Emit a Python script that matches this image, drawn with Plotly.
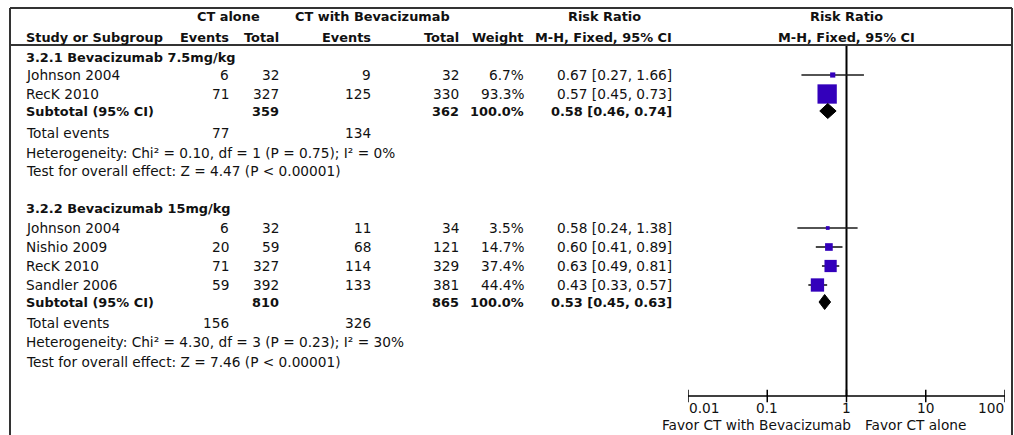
import numpy as np
import plotly.graph_objects as go

W, H = 1014, 435
FONT = "DejaVu Sans"
FS = 13.7       # regular text
FS_B = 12.9     # bold text
TXT = "#111111"
SQ = "#3300BB"

# ---------------- data ----------------
g1_title = "3.2.1 Bevacizumab 7.5mg/kg"
g1_studies = ["Johnson 2004", "RecK 2010"]
g1_ct_events = [6, 71]
g1_ct_total = [32, 327]
g1_bev_events = [9, 125]
g1_bev_total = [32, 330]
g1_weight = [6.7, 93.3]
g1_rr = [0.67, 0.57]
g1_lo = [0.27, 0.45]
g1_hi = [1.66, 0.73]
g1_sub_ct_total = 359
g1_sub_bev_total = 362
g1_sub_rr = [0.58, 0.46, 0.74]
g1_total_events = [77, 134]
g1_het = "Heterogeneity: Chi² = 0.10, df = 1 (P = 0.75); I² = 0%"
g1_test = "Test for overall effect: Z = 4.47 (P < 0.00001)"

g2_title = "3.2.2 Bevacizumab 15mg/kg"
g2_studies = ["Johnson 2004", "Nishio 2009", "RecK 2010", "Sandler 2006"]
g2_ct_events = [6, 20, 71, 59]
g2_ct_total = [32, 59, 327, 392]
g2_bev_events = [11, 68, 114, 133]
g2_bev_total = [34, 121, 329, 381]
g2_weight = [3.5, 14.7, 37.4, 44.4]
g2_rr = [0.58, 0.60, 0.63, 0.43]
g2_lo = [0.24, 0.41, 0.49, 0.33]
g2_hi = [1.38, 0.89, 0.81, 0.57]
g2_sub_ct_total = 810
g2_sub_bev_total = 865
g2_sub_rr = [0.53, 0.45, 0.63]
g2_total_events = [156, 326]
g2_het = "Heterogeneity: Chi² = 4.30, df = 3 (P = 0.23); I² = 30%"
g2_test = "Test for overall effect: Z = 7.46 (P < 0.00001)"

axis_ticks = [0.01, 0.1, 1, 10, 100]
axis_labels = ["0.01", "0.1", "1", "10", "100"]
favor_left = "Favor CT with Bevacizumab"
favor_right = "Favor CT alone"

# ---------------- layout (pixel rows / columns) ----------------
g1_rows = dict(title=57, studies=[75, 94], sub=111, events=133, het=153, test=171)
g2_rows = dict(title=208, studies=[228, 247, 266, 285], sub=302, events=323, het=342, test=362)
HDR1_Y, HDR2_Y = 16, 37
AXIS_Y = 396
TICKLAB_Y, FAVOR_Y = 408, 425
PLOT_X0, PLOT_X1 = 688, 1005
COL_STUDY = 25
COL_CT_EV, COL_CT_TOT = 230, 280
COL_BEV_EV, COL_BEV_TOT = 372, 460
COL_WEIGHT = 525
COL_RR = 673

annotations = []


def txt(x, y, s, anchor="left", bold=False, xref="paper"):
    annotations.append(dict(
        x=x / W if xref == "paper" else x, y=y, xref=xref, yref="y",
        text=f"<b>{s}</b>" if bold else s, showarrow=False,
        xanchor=anchor, yanchor="middle", borderpad=0,
        font=dict(family=FONT, size=FS_B if bold else FS, color=TXT),
    ))


def rr_text(r, lo, hi):
    return f"{r:.2f} [{lo:.2f}, {hi:.2f}]"


# header
txt(228, HDR1_Y, "CT alone", "center", True)
txt(372, HDR1_Y, "CT with Bevacizumab", "center", True)
txt(604, HDR1_Y, "Risk Ratio", "center", True)
txt(846, HDR1_Y, "Risk Ratio", "center", True)
txt(COL_STUDY, HDR2_Y, "Study or Subgroup", "left", True)
txt(COL_CT_EV, HDR2_Y, "Events", "right", True)
txt(COL_CT_TOT, HDR2_Y, "Total", "right", True)
txt(COL_BEV_EV, HDR2_Y, "Events", "right", True)
txt(COL_BEV_TOT, HDR2_Y, "Total", "right", True)
txt(COL_WEIGHT, HDR2_Y, "Weight", "right", True)
txt(COL_RR, HDR2_Y, "M-H, Fixed, 95% CI", "right", True)
txt(846, HDR2_Y, "M-H, Fixed, 95% CI", "center", True)

traces = []


def draw_group(rows, title, studies, cte, ctt, bve, bvt, wt, rr, lo, hi,
               sub_ct, sub_bev, sub_rr, tot_ev, het, test):
    txt(COL_STUDY, rows["title"], title, "left", True)
    for i, name in enumerate(studies):
        y = rows["studies"][i]
        txt(COL_STUDY, y, name)
        txt(COL_CT_EV, y, str(cte[i]), "right")
        txt(COL_CT_TOT, y, str(ctt[i]), "right")
        txt(COL_BEV_EV, y, str(bve[i]), "right")
        txt(COL_BEV_TOT, y, str(bvt[i]), "right")
        txt(COL_WEIGHT, y, f"{wt[i]:.1f}%", "right")
        txt(COL_RR, y, rr_text(rr[i], lo[i], hi[i]), "right")
    ys = rows["sub"]
    txt(COL_STUDY, ys, "Subtotal (95% CI)", "left", True)
    txt(COL_CT_TOT, ys, str(sub_ct), "right", True)
    txt(COL_BEV_TOT, ys, str(sub_bev), "right", True)
    txt(COL_WEIGHT, ys, f"{sum(wt):.1f}%", "right", True)
    txt(COL_RR, ys, rr_text(*sub_rr), "right", True)
    txt(COL_STUDY, rows["events"], "Total events")
    txt(COL_CT_EV, rows["events"], str(tot_ev[0]), "right")
    txt(COL_BEV_EV, rows["events"], str(tot_ev[1]), "right")
    txt(COL_STUDY, rows["het"], het)
    txt(COL_STUDY, rows["test"], test)

    # confidence intervals
    cx, cy = [], []
    for i in range(len(studies)):
        cx += [lo[i], hi[i], None]
        cy += [rows["studies"][i]] * 2 + [None]
    traces.append(go.Scatter(x=cx, y=cy, mode="lines",
                             line=dict(color="#1a1a1a", width=1.6),
                             hoverinfo="skip", showlegend=False))
    # study squares sized by weight
    traces.append(go.Scatter(
        x=rr, y=rows["studies"], mode="markers", opacity=1,
        marker=dict(symbol="square", color=SQ, opacity=1,
                    size=[max(3.0, 2.0 * np.sqrt(w)) for w in wt],
                    line=dict(width=0)),
        hoverinfo="skip", showlegend=False))
    # pooled diamond
    r, l, h = sub_rr
    half = 7.5
    traces.append(go.Scatter(
        x=[l, r, h, r, l], y=[ys, ys - half, ys, ys + half, ys],
        mode="lines", fill="toself", fillcolor="black",
        line=dict(color="black", width=1), hoverinfo="skip", showlegend=False))


draw_group(g1_rows, g1_title, g1_studies, g1_ct_events, g1_ct_total,
           g1_bev_events, g1_bev_total, g1_weight, g1_rr, g1_lo, g1_hi,
           g1_sub_ct_total, g1_sub_bev_total, g1_sub_rr, g1_total_events,
           g1_het, g1_test)
draw_group(g2_rows, g2_title, g2_studies, g2_ct_events, g2_ct_total,
           g2_bev_events, g2_bev_total, g2_weight, g2_rr, g2_lo, g2_hi,
           g2_sub_ct_total, g2_sub_bev_total, g2_sub_rr, g2_total_events,
           g2_het, g2_test)

# line of no effect
traces.insert(0, go.Scatter(x=[1, 1], y=[46, AXIS_Y], mode="lines",
                            line=dict(color="black", width=2),
                            hoverinfo="skip", showlegend=False))
# horizontal scale with tick marks
traces.insert(0, go.Scatter(x=[axis_ticks[0], axis_ticks[-1]], y=[AXIS_Y, AXIS_Y],
                            mode="lines", line=dict(color="black", width=1.5),
                            hoverinfo="skip", showlegend=False))
traces.insert(0, go.Scatter(x=axis_ticks, y=[AXIS_Y] * len(axis_ticks), mode="markers",
                            marker=dict(symbol="line-ns-open", size=9, color="black",
                                        line=dict(color="black", width=1.5)),
                            hoverinfo="skip", showlegend=False))

# tick labels: outer ones kept inside the scale
for i, (v, lab) in enumerate(zip(axis_ticks, axis_labels)):
    anchor = "left" if i == 0 else ("right" if i == len(axis_ticks) - 1 else "center")
    txt(np.log10(v), TICKLAB_Y, lab, anchor, xref="x")
txt(852, FAVOR_Y, favor_left, "right")
txt(864, FAVOR_Y, favor_right, "left")

fig = go.Figure(traces)

# table frame
frame = dict(color="#333333", width=2)
shapes = [
    dict(type="line", xref="paper", yref="y", x0=10 / W, x1=1012 / W, y0=8, y1=8, line=frame),
    dict(type="line", xref="paper", yref="y", x0=10 / W, x1=1012 / W, y0=45, y1=45, line=frame),
    dict(type="line", xref="paper", yref="y", x0=10 / W, x1=10 / W, y0=8, y1=H, line=frame),
    dict(type="line", xref="paper", yref="y", x0=1012 / W, x1=1012 / W, y0=8, y1=H, line=frame),
]

fig.update_layout(
    width=W, height=H,
    margin=dict(l=0, r=0, t=0, b=0),
    paper_bgcolor="white", plot_bgcolor="rgba(0,0,0,0)",
    xaxis=dict(type="log", range=[-2, 2], domain=[PLOT_X0 / W, PLOT_X1 / W],
               visible=False, fixedrange=True),
    yaxis=dict(range=[H, 0], domain=[0, 1], visible=False, fixedrange=True),
    annotations=annotations,
    shapes=shapes,
    showlegend=False,
)

fig.write_html("out.html", config={"displayModeBar": False})
